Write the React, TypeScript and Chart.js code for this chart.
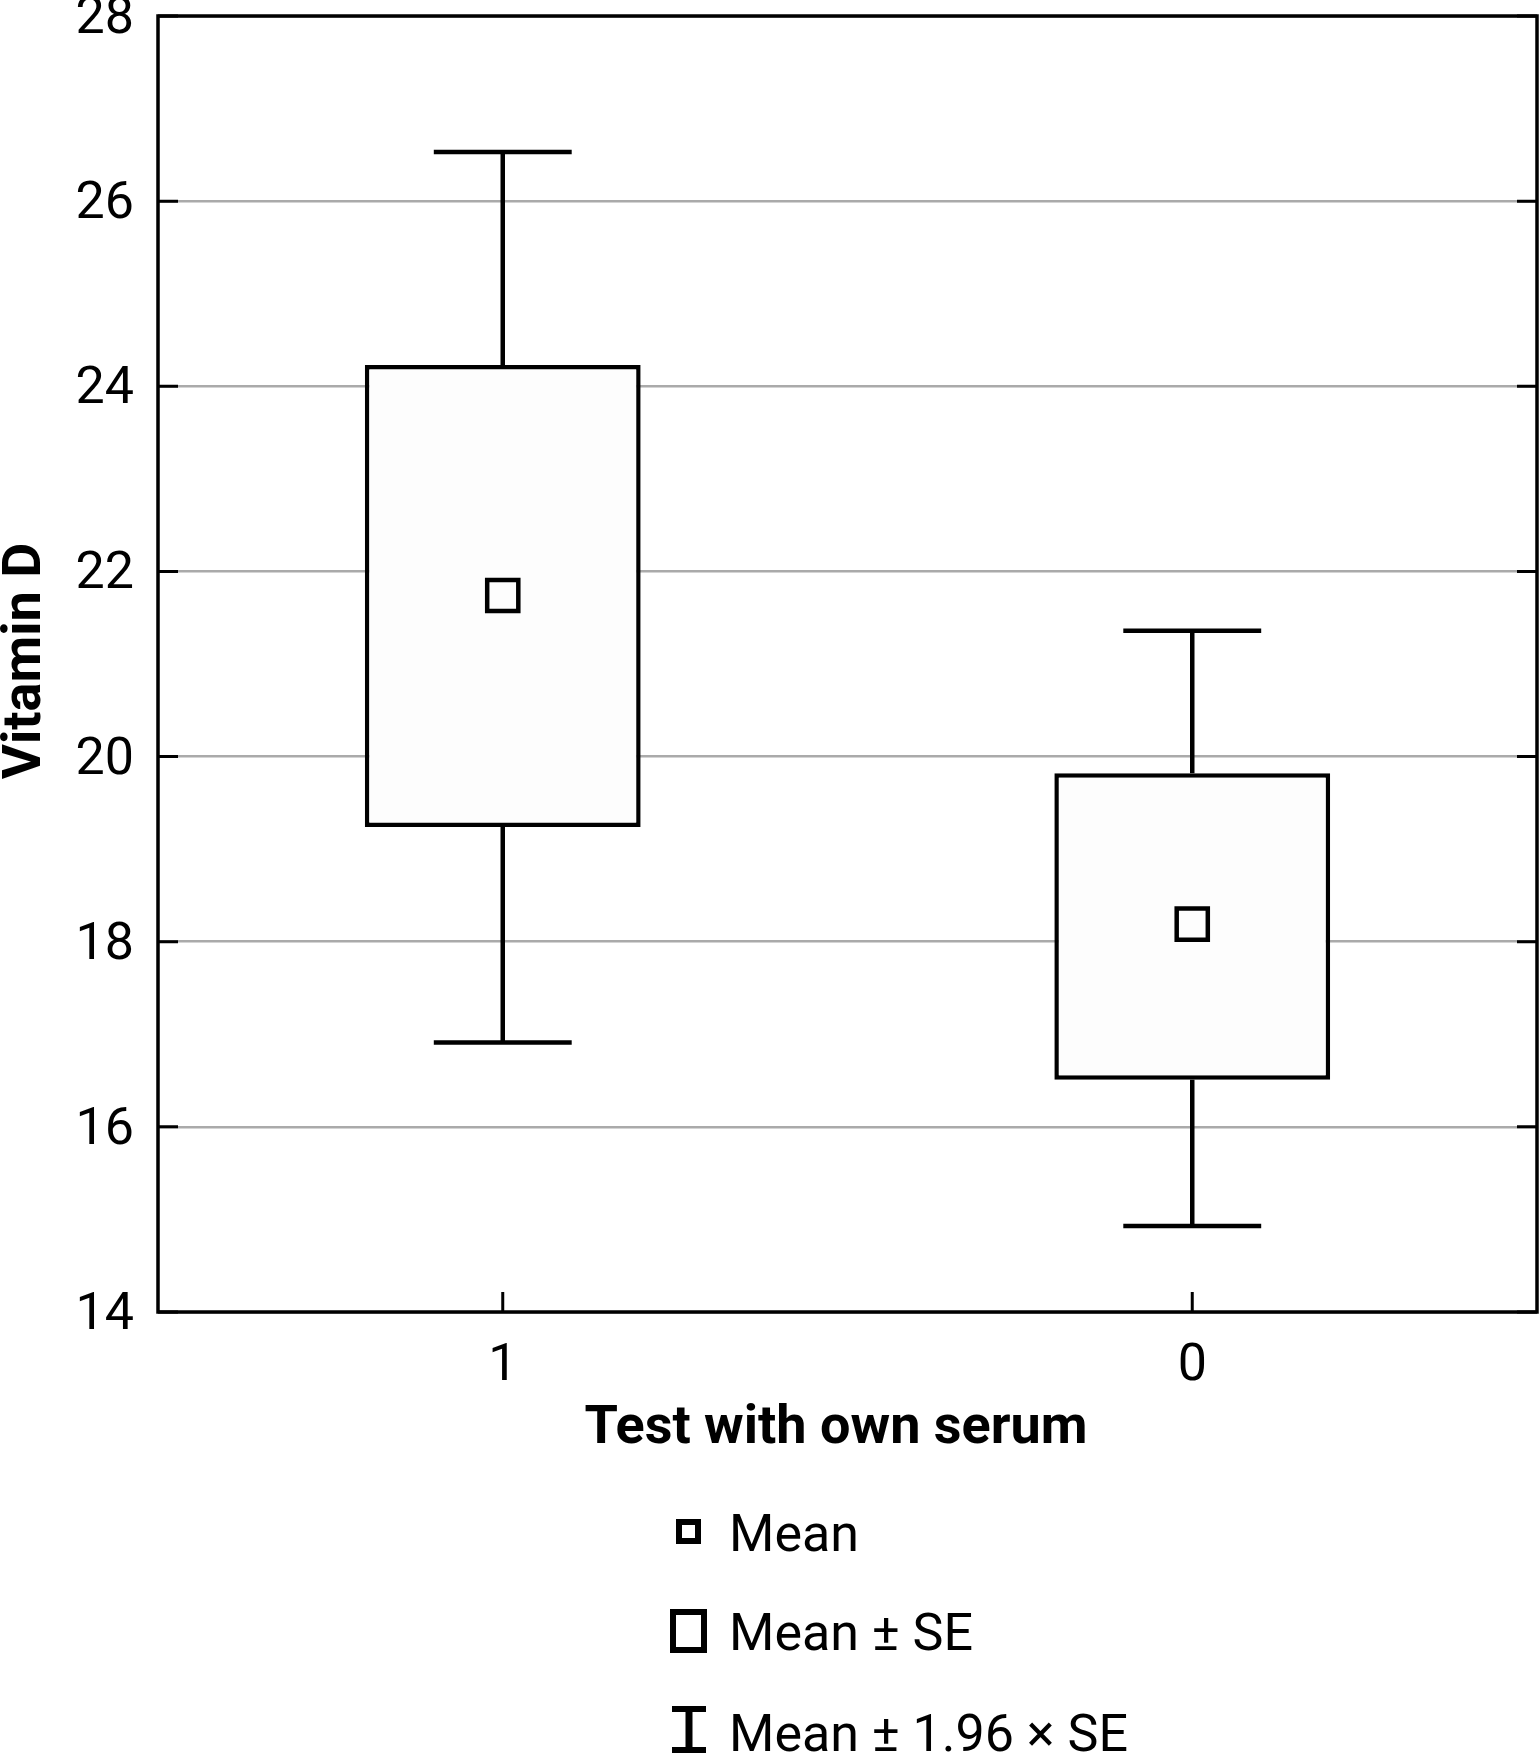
import React, { useEffect, useRef } from "react";
import { Chart, registerables } from "chart.js";

Chart.register(...registerables);

const categories = ["1", "0"];
const means = [21.74, 18.19];
const seLow = [19.24, 16.51];
const seHigh = [24.23, 19.82];
const ciLow = [16.91, 14.93];
const ciHigh = [26.53, 21.36];
const yTicks = [14, 16, 18, 20, 22, 24, 26, 28];
const xTitle = "Test with own serum";
const yTitle = "Vitamin D";
const legendLabels = ["Mean", "Mean \u00b1 SE", "Mean \u00b1 1.96 \u00d7 SE"];

const FONT = "Roboto, 'Noto Sans', sans-serif";

const decorPlugin = {
  id: "decor",
  beforeDatasetsDraw(chart: any) {
    const ctx = chart.ctx;
    const ys = chart.scales.y;
    const xs = chart.scales.x;
    const barMeta = chart.getDatasetMeta(1);
    ctx.save();
    ctx.strokeStyle = "#000";
    ctx.lineWidth = 4.5;
    ctx.lineCap = "butt";
    categories.forEach((_, i) => {
      const x = xs.getPixelForValue(i);
      const bw = barMeta.data[i] ? barMeta.data[i].width : 270;
      const cw = bw / 2;
      const yTop = ys.getPixelForValue(ciHigh[i]);
      const yBot = ys.getPixelForValue(ciLow[i]);
      const ySH = ys.getPixelForValue(seHigh[i]);
      const ySL = ys.getPixelForValue(seLow[i]);
      ctx.beginPath();
      ctx.moveTo(x, ySH);
      ctx.lineTo(x, yTop);
      ctx.moveTo(x - cw / 2, yTop);
      ctx.lineTo(x + cw / 2, yTop);
      ctx.moveTo(x, ySL);
      ctx.lineTo(x, yBot);
      ctx.moveTo(x - cw / 2, yBot);
      ctx.lineTo(x + cw / 2, yBot);
      ctx.stroke();
    });
    ctx.restore();
  },
  afterDraw(chart: any) {
    const ctx = chart.ctx;
    const a = chart.chartArea;
    const ys = chart.scales.y;
    const xs = chart.scales.x;
    ctx.save();
    // inner ticks
    ctx.strokeStyle = "#000";
    ctx.lineWidth = 3;
    yTicks.forEach((v) => {
      const y = ys.getPixelForValue(v);
      ctx.beginPath();
      ctx.moveTo(a.left, y);
      ctx.lineTo(a.left + 20, y);
      ctx.moveTo(a.right, y);
      ctx.lineTo(a.right - 20, y);
      ctx.stroke();
    });
    categories.forEach((_, i) => {
      const x = xs.getPixelForValue(i);
      ctx.beginPath();
      ctx.moveTo(x, a.bottom);
      ctx.lineTo(x, a.bottom - 20);
      ctx.stroke();
    });
    // frame
    ctx.lineWidth = 3.5;
    ctx.strokeRect(a.left, a.top, a.right - a.left, a.bottom - a.top);

    // titles
    ctx.fillStyle = "#000";
    ctx.font = `bold 54px ${FONT}`;
    ctx.textAlign = "center";
    ctx.textBaseline = "alphabetic";
    ctx.fillText(xTitle, 836, 1443);
    ctx.save();
    ctx.translate(40, 661);
    ctx.rotate(-Math.PI / 2);
    ctx.fillText(yTitle, 0, 0);
    ctx.restore();

    // legend
    ctx.font = `52px ${FONT}`;
    ctx.textAlign = "left";
    const tx = 729;
    const baselines = [1551, 1650, 1751];
    legendLabels.forEach((t, i) => ctx.fillText(t, tx, baselines[i]));
    ctx.strokeStyle = "#000";
    // small square
    ctx.lineWidth = 6;
    ctx.strokeRect(679, 1522, 19, 19);
    // SE box
    ctx.lineWidth = 6;
    ctx.strokeRect(673, 1612, 31, 38);
    // I-beam
    ctx.lineWidth = 6;
    ctx.beginPath();
    ctx.moveTo(672, 1709);
    ctx.lineTo(706, 1709);
    ctx.moveTo(672, 1750);
    ctx.lineTo(706, 1750);
    ctx.stroke();
    ctx.lineWidth = 7;
    ctx.beginPath();
    ctx.moveTo(689, 1709);
    ctx.lineTo(689, 1750);
    ctx.stroke();
    ctx.restore();
  },
};

export default function App() {
  const ref = useRef<HTMLCanvasElement>(null);
  useEffect(() => {
    if (!ref.current) return;
    const chart = new Chart(ref.current, {
      type: "bar",
      data: {
        labels: categories,
        datasets: [
          {
            type: "line",
            label: "Mean",
            data: means,
            showLine: false,
            pointStyle: "rect",
            pointRadius: 22,
            pointBorderWidth: 4.5,
            pointBackgroundColor: "#fdfdfd",
            pointBorderColor: "#000",
            borderColor: "#000",
            order: 0,
          } as any,
          {
            type: "bar",
            label: "Mean \u00b1 SE",
            data: categories.map((_, i) => [seLow[i], seHigh[i]]),
            backgroundColor: "#fdfdfd",
            borderColor: "#000",
            borderWidth: 4.5,
            borderSkipped: false,
            barPercentage: 0.4,
            categoryPercentage: 1,
            order: 1,
          } as any,
        ],
      },
      options: {
        responsive: false,
        animation: false,
        devicePixelRatio: 1,
        layout: { autoPadding: false, padding: { top: 16, right: 2, left: 0, bottom: 0 } },
        plugins: {
          legend: { display: false },
          tooltip: { enabled: false },
          title: { display: false },
        },
        scales: {
          x: {
            type: "category",
            offset: true,
            grid: { display: false, drawTicks: false },
            border: { display: false },
            ticks: {
              color: "#000",
              font: { family: FONT, size: 52 },
              padding: 24,
              maxRotation: 0,
            },
            afterFit(scale: any) {
              scale.height = 1756 - 1312;
              scale.paddingLeft = 0;
              scale.paddingRight = 0;
            },
          },
          y: {
            type: "linear",
            min: 14,
            max: 28,
            afterBuildTicks(scale: any) {
              scale.ticks = yTicks.map((v) => ({ value: v }));
            },
            grid: { color: "#aaaaaa", lineWidth: 2.5, drawTicks: false },
            border: { display: false },
            ticks: {
              color: "#000",
              font: { family: FONT, size: 52 },
              padding: 24,
              labelOffset: 4,
            },
            afterFit(scale: any) {
              scale.width = 158;
              scale.paddingTop = 0;
              scale.paddingBottom = 0;
            },
          },
        },
      },
      plugins: [decorPlugin],
    });
    return () => chart.destroy();
  }, []);
  return (
    <canvas
      ref={ref}
      width={1539}
      height={1756}
      style={{ position: "absolute", left: 0, top: 0, display: "block", background: "#fff" }}
    />
  );
}
